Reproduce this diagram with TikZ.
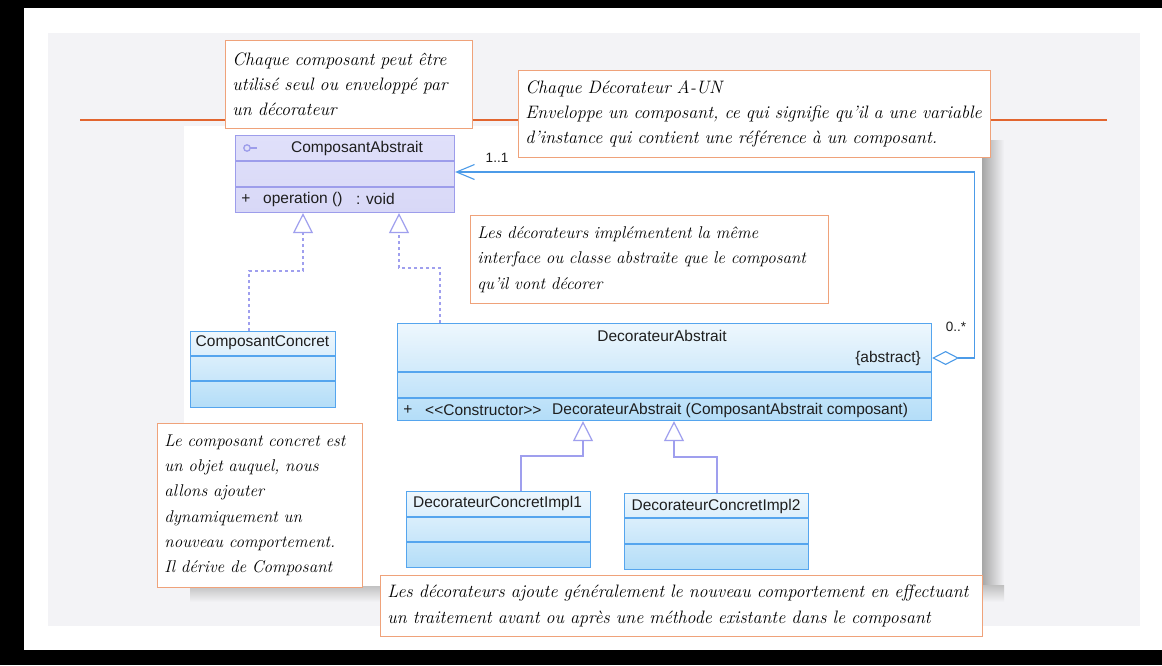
\documentclass[tikz,border=0pt]{standalone}
\usepackage{fontspec}
\newfontfamily\umlfont{Liberation Sans}
\usetikzlibrary{arrows.meta,calc}
\definecolor{panel}{HTML}{F3F3F6}
\definecolor{orangeline}{HTML}{E2652F}
\definecolor{noteborder}{HTML}{EFA27A}
\definecolor{purpleborder}{HTML}{9D9DEB}
\definecolor{purplefill}{HTML}{D8D8F7}
\definecolor{purpletop}{HTML}{E0E0FA}
\definecolor{blueborder}{HTML}{55A5EE}
\definecolor{bluetop}{HTML}{EEF7FD}
\definecolor{bluebottom}{HTML}{B3DDF8}
\definecolor{connblue}{HTML}{4C9BE8}
\definecolor{purpleline}{HTML}{9F9FEE}
\definecolor{umltext}{HTML}{1E1E1E}
\begin{document}
\begin{tikzpicture}[x=1pt,y=-1pt,
  purpleclass/.style={draw=purpleborder,line width=1.1pt,top color=purpletop,bottom color=purplefill,anchor=north west,inner sep=0pt},
  blueclass/.style={draw=blueborder,line width=1.1pt,top color=bluetop,bottom color=bluebottom,anchor=north west,inner sep=0pt},
  umltxt/.style={font=\umlfont\fontsize{15.5}{18}\selectfont,inner sep=0pt,text=umltext},
  multtxt/.style={font=\umlfont\fontsize{13.5}{16}\selectfont,inner sep=0pt,text=umltext},
  notebox/.style={draw=noteborder,line width=0.9pt,fill=white,anchor=north west,inner xsep=7pt,inner ysep=0pt,align=left,
    font=\itshape\fontsize{18}{25.2}\selectfont,text=black},
  smallnote/.style={font=\itshape\fontsize{17}{25.3}\selectfont},
  realline/.style={draw=purpleline,line width=1.2pt,dash pattern=on 3pt off 3pt,-{Triangle[length=20pt,width=20pt,fill=white]}},
  genline/.style={draw=purpleline,line width=1.2pt,-{Triangle[length=20pt,width=20pt,fill=white]}},
  aggline/.style={draw=connblue,line width=1.1pt,{Diamond[length=27pt,width=14pt,fill=white]}-{Straight Barb[length=18pt,width=15pt]}}
]
\useasboundingbox (0,0) rectangle (1162,665);
% screen background
\fill[black] (0,0) rectangle (1162,665);
\fill[white] (24,8) rectangle (1162,650);
\fill[panel] (48,33) rectangle (1140,626);
\draw[orangeline,line width=2.6pt] (80,120) -- (1107,120);
% diagram area with shadow
\shade[left color=black!35,right color=panel] (982,140) rectangle (1004,598);
\shade[top color=black!25,bottom color=panel] (190,585) rectangle (1004,602);
\fill[white] (184,126) rectangle (982,586);

% classes
\node[purpleclass,minimum width=219pt,minimum height=77pt] (ca) at (235,135) {};
\draw[purpleborder,line width=1.1pt] ([yshift=-26pt]ca.north west) -- ([yshift=-26pt]ca.north east);
\draw[purpleborder,line width=1.1pt] ([yshift=-52pt]ca.north west) -- ([yshift=-52pt]ca.north east);
\draw[purpleborder,line width=1.3pt] (247,148) circle (3.2pt);
\draw[purpleborder,line width=1.3pt] (250.2,148) -- (257,148);
\node[umltxt] (caname) at (357,148) {ComposantAbstrait};
\node[umltxt] (caplus) at (246,199) {+};
\node[umltxt,anchor=west] (caop) at (263,199) {operation ()};
\node[umltxt,anchor=west] (cavoid) at (356,199) {: void};

\node[blueclass,minimum width=145pt,minimum height=76pt] (cc) at (190,331) {};
\draw[blueborder,line width=1.1pt] ([yshift=-25pt]cc.north west) -- ([yshift=-25pt]cc.north east);
\draw[blueborder,line width=1.1pt] ([yshift=-50pt]cc.north west) -- ([yshift=-50pt]cc.north east);
\node[umltxt] (ccname) at (262.5,343) {ComposantConcret};

\node[blueclass,minimum width=534pt,minimum height=97pt] (dec) at (397,323) {};
\draw[blueborder,line width=1.1pt] ([yshift=-49pt]dec.north west) -- ([yshift=-49pt]dec.north east);
\draw[blueborder,line width=1.1pt] ([yshift=-75pt]dec.north west) -- ([yshift=-75pt]dec.north east);
\node[umltxt] (decname) at (662,336) {DecorateurAbstrait};
\node[umltxt,anchor=east] (decabs) at (921,358) {\{abstract\}};
\node[umltxt] (decplus) at (408,410) {+};
\node[umltxt,anchor=west] (decctor) at (425,410) {<{}<Constructor>{}>};
\node[umltxt,anchor=west] (decsig) at (552,410) {DecorateurAbstrait (ComposantAbstrait composant)};

\node[blueclass,minimum width=184pt,minimum height=76pt] (i1) at (406,491) {};
\draw[blueborder,line width=1.1pt] ([yshift=-26pt]i1.north west) -- ([yshift=-26pt]i1.north east);
\draw[blueborder,line width=1.1pt] ([yshift=-51pt]i1.north west) -- ([yshift=-51pt]i1.north east);
\node[umltxt] (i1name) at (497.5,503) {DecorateurConcretImpl1};

\node[blueclass,minimum width=184pt,minimum height=76pt] (i2) at (624,493) {};
\draw[blueborder,line width=1.1pt] ([yshift=-25pt]i2.north west) -- ([yshift=-25pt]i2.north east);
\draw[blueborder,line width=1.1pt] ([yshift=-51pt]i2.north west) -- ([yshift=-51pt]i2.north east);
\node[umltxt] (i2name) at (716,506) {DecorateurConcretImpl2};

% connectors
\draw[realline] ([xshift=59pt]cc.north west) -- ++(0,-60) -| ([xshift=68pt]ca.south west);
\draw[realline] ([xshift=43pt]dec.north west) -- ++(0,-55) -| ([xshift=164pt]ca.south west);
\draw[genline] ([xshift=115pt]i1.north west) -- ++(0,-35) -| ([xshift=186pt]dec.south west);
\draw[genline] ([xshift=93pt]i2.north west) -- ++(0,-36) -| ([xshift=277pt]dec.south west);
\draw[aggline] ([yshift=-35pt]dec.north east) -- ++(42,0) |- ([yshift=-37pt]ca.north east);
\node[multtxt] (m11) at (497,158) {1..1};
\node[multtxt] (m0s) at (956,327) {0..*};

% notes
\node[notebox,text width=233pt,minimum height=88pt] (n1) at (225,40)
  {Chaque composant peut être\\utilisé seul ou enveloppé par\\un décorateur};
\node[notebox,text width=458pt,minimum height=87pt] (n2) at (518,70)
  {Chaque Décorateur A-UN\\Enveloppe un composant, ce qui signifie qu’il a une variable\\d’instance qui contient une référence à un composant.};
\node[notebox,smallnote,text width=344pt,minimum height=88pt] (n3) at (470,215)
  {Les décorateurs implémentent la même\\interface ou classe abstraite que le composant\\qu’il vont décorer};
\node[notebox,smallnote,text width=191pt,minimum height=164pt] (n4) at (157,423)
  {Le composant concret est\\un objet auquel, nous\\allons ajouter\\dynamiquement un\\nouveau comportement.\\Il dérive de Composant};
\node[notebox,text width=588pt,minimum height=61pt] (n5) at (380,575)
  {Les décorateurs ajoute généralement le nouveau comportement en effectuant\\un traitement avant ou après une méthode existante dans le composant};
\end{tikzpicture}
\end{document}
